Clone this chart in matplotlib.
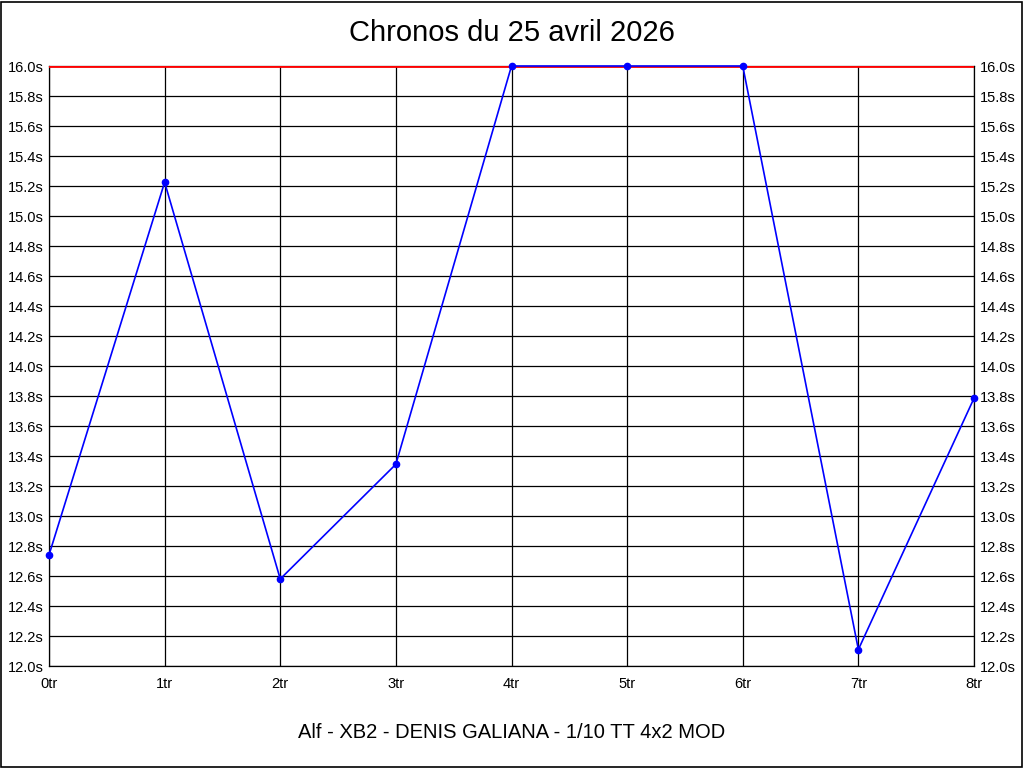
import numpy as np
import matplotlib.pyplot as plt
from matplotlib.patches import Rectangle

laps = ["0tr", "1tr", "2tr", "3tr", "4tr", "5tr", "6tr", "7tr", "8tr"]
times = [12.74, 15.225, 12.58, 13.345, 16.0, 16.0, 16.0, 12.11, 13.785]
y_ticks = np.round(np.arange(12.0, 16.01, 0.2), 1)
y_labels = [f"{v:.1f}s" for v in y_ticks]
limit = 16.0

plt.rcParams["font.family"] = ["Liberation Sans", "DejaVu Sans"]

fig = plt.figure(figsize=(10.24, 7.68), dpi=100)
fig.patch.set_facecolor("white")
fig.patches.append(Rectangle((0.001, 0.001), 0.997, 0.997, transform=fig.transFigure,
                             fill=False, edgecolor="black", lw=1.2))

ax = fig.add_axes([49 / 1024, (768 - 666) / 768, 925 / 1024, 600 / 768])
x = np.arange(len(laps))
ax.set_xlim(0, len(laps) - 1)
ax.set_ylim(12.0, 16.0)

ax.set_xticks(x)
ax.set_xticklabels(laps, fontsize=10.5)
ax.set_yticks(y_ticks)
ax.set_yticklabels(y_labels, fontsize=10.5)
ax.tick_params(axis="both", length=0, pad=3)
ax.tick_params(axis="y", labelright=True, right=False, pad=4)
ax.tick_params(axis="x", pad=8)

ax.grid(True, color="black", lw=0.9)
ax.set_axisbelow(True)
for sp in ax.spines.values():
    sp.set_color("black")
    sp.set_linewidth(0.9)

ax.axhline(limit, color="red", lw=2.7, zorder=3)
ax.plot(x, times, "-o", color="blue", lw=1.2, markersize=4.5, zorder=4,
        clip_on=False)

fig.text(0.5, 1 - 33 / 768, "Chronos du 25 avril 2026", ha="center", va="center",
         fontsize=21)
fig.text(0.5, 1 - 733 / 768, "Alf - XB2 - DENIS GALIANA - 1/10 TT 4x2 MOD",
         ha="center", va="center", fontsize=14.5)

fig.savefig("out.png", dpi=100)
